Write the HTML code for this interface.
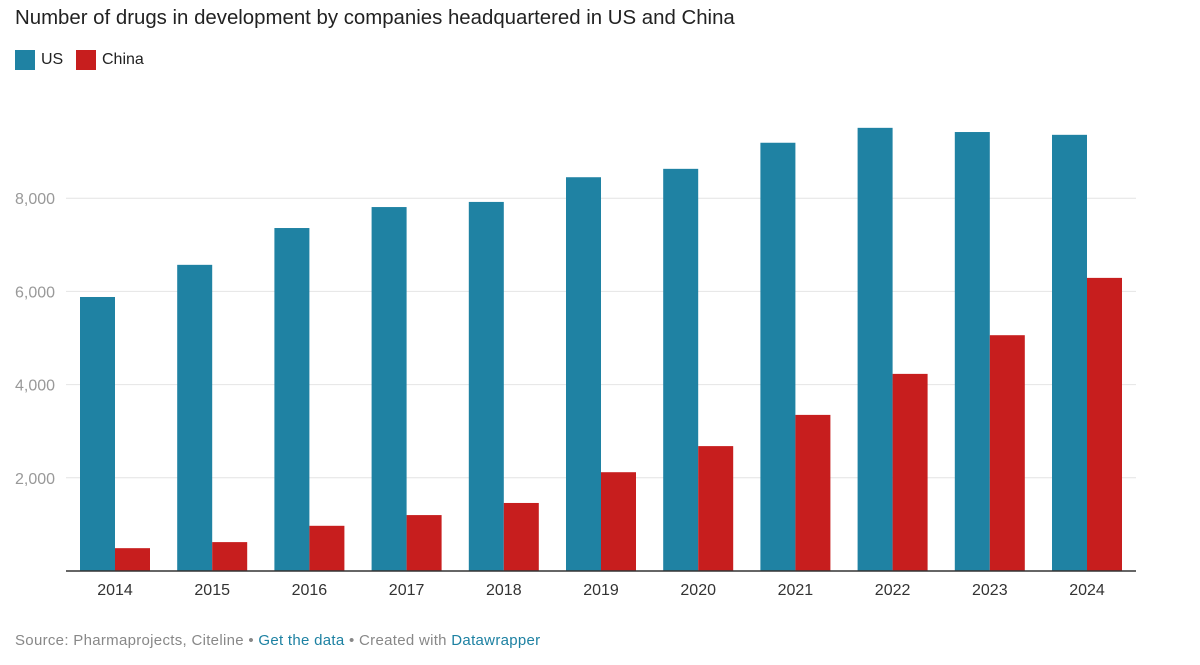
<!DOCTYPE html>
<html><head><meta charset="utf-8"><style>
body{margin:0;width:1200px;height:665px;background:#fff;font-family:"Liberation Sans",sans-serif;overflow:hidden}
#title{position:absolute;left:15px;top:7px;font-size:20.4px;color:#222}
.leg{position:absolute;top:50px;font-size:16px;color:#222;display:flex;align-items:center}
.sw{width:20px;height:20px;margin-right:6px}
#foot{position:absolute;left:15px;top:632px;font-size:15px;letter-spacing:0.3px;color:#888}
#foot a{color:#1d81a2;text-decoration:none}
svg{position:absolute;left:0;top:0}
</style></head><body>
<div id="title">Number of drugs in development by companies headquartered in US and China</div>
<div class="leg" style="left:15px"><div class="sw" style="background:#1f82a3"></div>US</div>
<div class="leg" style="left:76px"><div class="sw" style="background:#c71e1e"></div>China</div>
<svg id="chart" width="1200" height="665"></svg>
<div id="foot">Source: Pharmaprojects, Citeline • <a>Get the data</a> • Created with <a>Datawrapper</a></div>
<script>
const years=["2014","2015","2016","2017","2018","2019","2020","2021","2022","2023","2024"];
const us=[5880,6570,7360,7810,7920,8450,8630,9190,9510,9420,9360];
const china=[490,620,970,1200,1460,2120,2680,3350,4230,5060,6290];
const ticks=[2000,4000,6000,8000];
const NS="http://www.w3.org/2000/svg";
const svg=document.getElementById('chart');
const y=v=>571-v*93.2/2000;
const xc=i=>115+i*97.2;
function mk(t,a){const e=document.createElementNS(NS,t);for(const k in a)e.setAttribute(k,a[k]);svg.appendChild(e);return e;}
ticks.forEach(t=>{
 const l=mk('line',{x1:66,x2:1136,y1:y(t),y2:y(t),stroke:'#e4e4e4','stroke-width':1});
 
 
 const tx=mk('text',{x:15,y:y(t)+6,'font-size':16,fill:'#999','font-family':'Liberation Sans'});
 tx.textContent=t.toLocaleString('en-US');
 
 
});
years.forEach((yr,i)=>{
 const b1=mk('rect',{x:xc(i)-35,y:y(us[i]),width:35,height:571-y(us[i]),fill:'#1f82a3'});
 
 
 const b2=mk('rect',{x:xc(i),y:y(china[i]),width:35,height:571-y(china[i]),fill:'#c71e1e'});
 
 
 const t=mk('text',{x:xc(i),y:595,'font-size':16,fill:'#333','text-anchor':'middle','font-family':'Liberation Sans'});
 t.textContent=yr;
 
 
});
const ax=mk('line',{x1:66,x2:1136,y1:571,y2:571,stroke:'#333','stroke-width':1.5});


</script>
</body></html>
